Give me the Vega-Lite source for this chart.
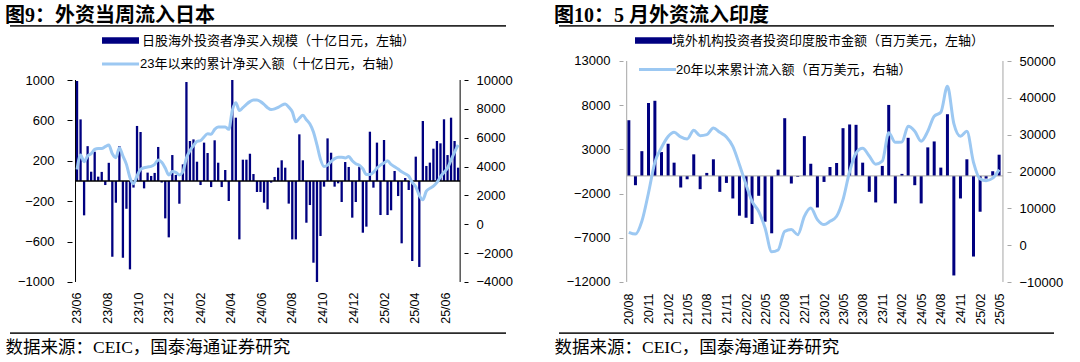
{
  "$schema": "https://vega.github.io/schema/vega-lite/v6.json",
  "background": "white",
  "padding": 5,
  "spacing": 37,
  "config": {
    "view": {"stroke": null},
    "axis": {"grid": false, "labelFont": "Liberation Sans", "labelFontSize": 13, "labelColor": "#000", "title": null},
    "legend": {"orient": "none", "title": null, "padding": 0, "labelFont": "Liberation Sans, Noto Sans CJK SC", "labelFontSize": 13, "labelColor": "#000", "labelLimit": 700}
  },
  "resolve": {"scale": {"fill": "independent", "stroke": "independent"}, "legend": {"fill": "independent", "stroke": "independent"}},
  "datasets": {
    "jp": [
      {"d":"2023-06-02","v":990,"c":3800},{"d":"2023-06-09","v":610,"c":4800},{"d":"2023-06-16","v":-340,"c":4340},{"d":"2023-06-23","v":345,"c":4730},{"d":"2023-06-30","v":92,"c":4890},
      {"d":"2023-07-07","v":290,"c":5190},{"d":"2023-07-14","v":43,"c":5260},{"d":"2023-07-21","v":90,"c":5260},{"d":"2023-07-28","v":-40,"c":5380},
      {"d":"2023-08-04","v":180,"c":5490},{"d":"2023-08-11","v":-750,"c":4890},{"d":"2023-08-18","v":-215,"c":4620},{"d":"2023-08-25","v":345,"c":5310},
      {"d":"2023-09-01","v":-760,"c":4730},{"d":"2023-09-08","v":-275,"c":4150},{"d":"2023-09-15","v":-875,"c":3230},{"d":"2023-09-22","v":-65,"c":2810},{"d":"2023-09-29","v":545,"c":3350},
      {"d":"2023-10-06","v":485,"c":3810},{"d":"2023-10-13","v":-73,"c":3920},{"d":"2023-10-20","v":83,"c":3970},{"d":"2023-10-27","v":50,"c":4010},
      {"d":"2023-11-03","v":80,"c":4150},{"d":"2023-11-10","v":337,"c":4460},{"d":"2023-11-17","v":-15,"c":4300},{"d":"2023-11-24","v":-370,"c":3900},
      {"d":"2023-12-01","v":-558,"c":3420},{"d":"2023-12-08","v":257,"c":3650},{"d":"2023-12-15","v":60,"c":3600},{"d":"2023-12-22","v":-225,"c":3420},{"d":"2023-12-29","v":165,"c":3650},
      {"d":"2024-01-05","v":980,"c":4600},{"d":"2024-01-12","v":396,"c":5100},{"d":"2024-01-19","v":412,"c":5450},{"d":"2024-01-26","v":191,"c":5750},
      {"d":"2024-02-02","v":-40,"c":5800},{"d":"2024-02-09","v":380,"c":6050},{"d":"2024-02-16","v":277,"c":6280},{"d":"2024-02-23","v":-60,"c":6240},
      {"d":"2024-03-01","v":403,"c":6580},{"d":"2024-03-08","v":181,"c":6740},{"d":"2024-03-15","v":-60,"c":6740},{"d":"2024-03-22","v":109,"c":6750},{"d":"2024-03-29","v":-198,"c":6580},
      {"d":"2024-04-05","v":1000,"c":7900},{"d":"2024-04-12","v":627,"c":8430},{"d":"2024-04-19","v":-578,"c":7890},{"d":"2024-04-26","v":211,"c":8080},
      {"d":"2024-05-03","v":211,"c":8310},{"d":"2024-05-10","v":270,"c":8500},{"d":"2024-05-17","v":69,"c":8610},{"d":"2024-05-24","v":-109,"c":8610},{"d":"2024-05-31","v":-109,"c":8500},
      {"d":"2024-06-07","v":-215,"c":8310},{"d":"2024-06-14","v":-280,"c":8080},{"d":"2024-06-21","v":-16,"c":7950},{"d":"2024-06-28","v":40,"c":8000},
      {"d":"2024-07-05","v":132,"c":8100},{"d":"2024-07-12","v":205,"c":8250},{"d":"2024-07-19","v":132,"c":8330},{"d":"2024-07-26","v":-224,"c":8120},
      {"d":"2024-08-02","v":-578,"c":7800},{"d":"2024-08-09","v":-578,"c":7100},{"d":"2024-08-16","v":462,"c":7350},{"d":"2024-08-23","v":205,"c":7550},{"d":"2024-08-30","v":-413,"c":7250},
      {"d":"2024-09-06","v":-238,"c":6950},{"d":"2024-09-13","v":-809,"c":6400},{"d":"2024-09-20","v":-1000,"c":5500},{"d":"2024-09-27","v":-545,"c":4500},
      {"d":"2024-10-04","v":-56,"c":4000},{"d":"2024-10-11","v":422,"c":4100},{"d":"2024-10-18","v":280,"c":4350},{"d":"2024-10-25","v":-56,"c":4550},
      {"d":"2024-11-01","v":-23,"c":4650},{"d":"2024-11-08","v":-208,"c":4650},{"d":"2024-11-15","v":188,"c":4600},{"d":"2024-11-22","v":139,"c":4700},{"d":"2024-11-29","v":-363,"c":4400},
      {"d":"2024-12-06","v":-208,"c":4200},{"d":"2024-12-13","v":142,"c":4100},{"d":"2024-12-20","v":-512,"c":3850},{"d":"2024-12-27","v":-452,"c":3450},
      {"d":"2025-01-03","v":488,"c":3450},{"d":"2025-01-10","v":-66,"c":3600},{"d":"2025-01-17","v":380,"c":3900},{"d":"2025-01-24","v":-337,"c":4100},{"d":"2025-01-31","v":406,"c":4250},
      {"d":"2025-02-07","v":-337,"c":4400},{"d":"2025-02-14","v":-290,"c":4150},{"d":"2025-02-21","v":99,"c":3990},{"d":"2025-02-28","v":-149,"c":3830},
      {"d":"2025-03-07","v":-617,"c":3640},{"d":"2025-03-14","v":30,"c":3500},{"d":"2025-03-21","v":-89,"c":3350},{"d":"2025-03-28","v":-792,"c":2900},
      {"d":"2025-04-04","v":241,"c":2600},{"d":"2025-04-11","v":-851,"c":2000},{"d":"2025-04-18","v":594,"c":1700},{"d":"2025-04-25","v":149,"c":2300},
      {"d":"2025-05-02","v":182,"c":2490},{"d":"2025-05-09","v":320,"c":2650},{"d":"2025-05-16","v":396,"c":2900},{"d":"2025-05-23","v":373,"c":3290},{"d":"2025-05-30","v":611,"c":3600},
      {"d":"2025-06-06","v":257,"c":3900},{"d":"2025-06-13","v":627,"c":4450},{"d":"2025-06-20","v":396,"c":5000},{"d":"2025-06-27","v":132,"c":5500}
    ],
    "jpaxes": [{"t0": "2023-05-30", "t1": "2025-07-01", "lo": -1000, "hi": 1000, "z": 0}],
    "jpframe": [{"f0": "2023-01-20", "f1": "2025-09-30", "top": 1536.7, "bot": -1507}],
    "ind": [
      {"d":"2020-08-01","v":6300,"c":3500},{"d":"2020-09-01","v":-1050,"c":3000},{"d":"2020-10-01","v":2800,"c":6480},{"d":"2020-11-01","v":8250,"c":14170},{"d":"2020-12-01","v":8500,"c":22500},
      {"d":"2021-01-01","v":2700,"c":26500},{"d":"2021-02-01","v":3640,"c":29500},{"d":"2021-03-01","v":1500,"c":30640},{"d":"2021-04-01","v":-1310,"c":29380},{"d":"2021-05-01","v":-380,"c":28830},{"d":"2021-06-01","v":2440,"c":31190},
      {"d":"2021-07-01","v":-1500,"c":29740},{"d":"2021-08-01","v":340,"c":30010},{"d":"2021-09-01","v":1880,"c":31820},{"d":"2021-10-01","v":-1800,"c":30640},{"d":"2021-11-01","v":-790,"c":29380},{"d":"2021-12-01","v":-2550,"c":26840},
      {"d":"2022-01-01","v":-4500,"c":21860},{"d":"2022-02-01","v":-4730,"c":16430},{"d":"2022-03-01","v":-5440,"c":11910},{"d":"2022-04-01","v":-2250,"c":9200},{"d":"2022-05-01","v":-5180,"c":4670},{"d":"2022-06-01","v":-6490,"c":-1800},
      {"d":"2022-07-01","v":710,"c":-1300},{"d":"2022-08-01","v":6530,"c":3760},{"d":"2022-09-01","v":-860,"c":4220},{"d":"2022-10-01","v":-100,"c":2860},{"d":"2022-11-01","v":4500,"c":7840},{"d":"2022-12-01","v":1390,"c":10100},
      {"d":"2023-01-01","v":-3570,"c":6930},{"d":"2023-02-01","v":-680,"c":5580},{"d":"2023-03-01","v":1010,"c":6480},{"d":"2023-04-01","v":1460,"c":7840},{"d":"2023-05-01","v":5400,"c":12360},{"d":"2023-06-01","v":5820,"c":20000},
      {"d":"2023-07-01","v":5780,"c":25000},{"d":"2023-08-01","v":1500,"c":26300},{"d":"2023-09-01","v":-1800,"c":24200},{"d":"2023-10-01","v":-3000,"c":22000},{"d":"2023-11-01","v":1130,"c":22800},{"d":"2023-12-01","v":8030,"c":30500},
      {"d":"2024-01-01","v":-3110,"c":27930},{"d":"2024-02-01","v":230,"c":28000},{"d":"2024-03-01","v":4310,"c":32270},{"d":"2024-04-01","v":-1050,"c":30920},{"d":"2024-05-01","v":-3110,"c":28200},{"d":"2024-06-01","v":3230,"c":30920},
      {"d":"2024-07-01","v":3900,"c":34990},{"d":"2024-08-01","v":940,"c":36070},{"d":"2024-09-01","v":6980,"c":43130},{"d":"2024-10-01","v":-11260,"c":33000},{"d":"2024-11-01","v":-2550,"c":29560},{"d":"2024-12-01","v":1880,"c":30920},
      {"d":"2025-01-01","v":-9120,"c":22500},{"d":"2025-02-01","v":-4050,"c":17970},{"d":"2025-03-01","v":-300,"c":17520},{"d":"2025-04-01","v":530,"c":18200},{"d":"2025-05-01","v":2400,"c":20510}
    ],
    "inaxes": [{"t0": "2020-07-22", "t1": "2025-05-19", "lo": -12000, "hi": 13000, "z": 0}],
    "inframe": [{"f0": "2019-09-09", "f1": "2026-01-13", "top": 16982, "bot": -17792}]
  },
  "hconcat": [
    {
      "width": 506, "height": 309,
      "title": {"text": "图9：外资当周流入日本", "anchor": "start", "frame": "group", "offset": -1, "fontSize": 20, "fontWeight": "bold", "font": "Liberation Serif, Noto Sans CJK SC", "color": "#000"},
      "resolve": {"scale": {"y": "independent"}, "axis": {"x": "independent"}},
      "layer": [
        {
          "resolve": {"axis": {"x": "independent"}},
          "layer": [
            {
              "data": {"name": "jp"},
              "mark": {"type": "bar", "size": 2.3},
              "encoding": {
                "x": {"field": "d", "type": "temporal",
                  "scale": {"type": "utc", "domain": [{"year": 2023, "month": 1, "date": 20, "utc": true}, {"year": 2025, "month": 9, "date": 30, "utc": true}]},
                  "axis": {"orient": "bottom", "offset": -52, "domain": false, "ticks": false, "labelAngle": 270, "labelPadding": 10, "labelFontSize": 12.5, "labelFlush": false, "labelOverlap": false,
                    "tickCount": {"interval": "month", "step": 1},
                    "labelExpr": "datum.value >= utc(2023,5,1) && datum.value <= utc(2025,5,2) && utcmonth(datum.value) % 2 == 1 ? utcFormat(datum.value, '%y/%m') : ''"}},
                "y": {"field": "v", "type": "quantitative", "scale": {"domain": [-1514.9, 1544.6], "nice": false, "zero": false},
                  "axis": {"orient": "left", "offset": -67, "values": [-1000,-800,-600,-400,-200,0,200,400,600,800,1000], "format": "d", "domain": false, "tickColor": "#000", "tickSize": 5, "labelPadding": 13}},
                "fill": {"datum": "日股海外投资者净买入规模（十亿日元，左轴）", "scale": {"range": ["#000080"]},
                  "legend": {"legendX": 109, "legendY": 9, "symbolType": "M-5.69,-1H5.69V1H-5.69Z", "symbolSize": 42.25, "symbolStrokeWidth": 0, "labelOffset": 15}}
              }
            },
            {
              "data": {"name": "jpaxes"},
              "mark": {"type": "rule", "color": "#000", "strokeWidth": 1.3},
              "encoding": {
                "x": {"field": "t0", "type": "temporal", "axis": null},
                "x2": {"field": "t1"},
                "y": {"field": "z", "type": "quantitative"}
              }
            },
            {
              "data": {"name": "jpaxes"},
              "mark": {"type": "rule", "color": "#000", "strokeWidth": 1},
              "encoding": {
                "x": {"field": "t0", "type": "temporal", "axis": null},
                "y": {"field": "lo", "type": "quantitative"},
                "y2": {"field": "hi"}
              }
            },
            {
              "data": {"name": "jpaxes"},
              "mark": {"type": "rule", "color": "#000", "strokeWidth": 1},
              "encoding": {
                "x": {"field": "t1", "type": "temporal",
                  "axis": {"orient": "bottom", "offset": 0, "labels": false, "ticks": false, "domain": false,
                    "title": "数据来源：CEIC，国泰海通证券研究", "titleAnchor": "start", "titlePadding": 4, "titleFont": "Liberation Serif, Noto Sans CJK SC", "titleFontSize": 17.5, "titleFontWeight": "normal", "titleColor": "#000"}},
                "y": {"field": "lo", "type": "quantitative"},
                "y2": {"field": "hi"}
              }
            },
            {
              "data": {"name": "jpframe"},
              "mark": {"type": "rule", "color": "#2b2b2b", "strokeWidth": 1.7, "clip": false},
              "encoding": {
                "x": {"field": "f0", "type": "temporal", "axis": null},
                "x2": {"field": "f1"},
                "y": {"field": "top", "type": "quantitative"}
              }
            },
            {
              "data": {"name": "jpframe"},
              "mark": {"type": "rule", "color": "#2b2b2b", "strokeWidth": 1.7, "clip": false},
              "encoding": {
                "x": {"field": "f0", "type": "temporal", "axis": null},
                "x2": {"field": "f1"},
                "y": {"field": "bot", "type": "quantitative"}
              }
            }
          ]
        },
        {
          "data": {"name": "jp"},
          "mark": {"type": "line", "strokeWidth": 3, "interpolate": "monotone"},
          "encoding": {
            "x": {"field": "d", "type": "temporal", "axis": null},
            "y": {"field": "c", "type": "quantitative", "scale": {"domain": [-7604, 13811.9], "nice": false, "zero": false},
              "axis": {"orient": "right", "offset": -47, "values": [-4000,-2000,0,2000,4000,6000,8000,10000], "format": "d", "domain": false, "tickColor": "#000", "tickSize": 4, "labelPadding": 8}},
            "stroke": {"datum": "23年以来的累计净买入额（十亿日元，右轴）", "scale": {"range": ["#9cc8f2"]},
              "legend": {"legendX": 109, "legendY": 32.5, "symbolType": "M-5.69,0H5.69", "symbolSize": 42.25, "symbolStrokeWidth": 3, "labelOffset": 13}}
          }
        }
      ]
    },
    {
      "width": 505, "height": 309,
      "title": {"text": "图10：5 月外资流入印度", "anchor": "start", "frame": "group", "offset": -1, "fontSize": 20, "fontWeight": "bold", "font": "Liberation Serif, Noto Sans CJK SC", "color": "#000"},
      "resolve": {"scale": {"y": "independent"}, "axis": {"x": "independent"}},
      "layer": [
        {
          "resolve": {"axis": {"x": "independent"}},
          "layer": [
            {
              "data": {"name": "ind"},
              "mark": {"type": "bar", "size": 3},
              "encoding": {
                "x": {"field": "d", "type": "temporal",
                  "scale": {"type": "utc", "domain": [{"year": 2019, "month": 9, "date": 9, "utc": true}, {"year": 2026, "month": 1, "date": 13, "utc": true}]},
                  "axis": {"orient": "bottom", "offset": -52, "domain": false, "ticks": false, "labelAngle": 270, "labelPadding": 11, "labelFontSize": 12.5, "labelFlush": false, "labelOverlap": false,
                    "tickCount": {"interval": "month", "step": 1},
                    "labelExpr": "datum.value >= utc(2020,6,25) && datum.value <= utc(2025,4,5) && utcmonth(datum.value) % 3 == 1 ? utcFormat(datum.value, '%y/%m') : ''"}},
                "y": {"field": "v", "type": "quantitative", "scale": {"domain": [-17882.4, 17072.4], "nice": false, "zero": false},
                  "axis": {"orient": "left", "offset": -69, "values": [-12000,-7000,-2000,3000,8000,13000], "format": "d", "domain": false, "tickColor": "#a6a6a6", "tickSize": 4, "labelPadding": 9}},
                "fill": {"datum": "境外机构投资者投资印度股市金额（百万美元，左轴）", "scale": {"range": ["#000080"]},
                  "legend": {"legendX": 93, "legendY": 9, "symbolType": "M-5.69,-1H5.69V1H-5.69Z", "symbolSize": 42.25, "symbolStrokeWidth": 0, "labelOffset": 12}}
              }
            },
            {
              "data": {"name": "inaxes"},
              "mark": {"type": "rule", "color": "#a6a6a6", "strokeWidth": 1},
              "encoding": {
                "x": {"field": "t0", "type": "temporal", "axis": null},
                "x2": {"field": "t1"},
                "y": {"field": "z", "type": "quantitative"}
              }
            },
            {
              "data": {"name": "inaxes"},
              "mark": {"type": "rule", "color": "#a6a6a6", "strokeWidth": 1},
              "encoding": {
                "x": {"field": "t0", "type": "temporal", "axis": null},
                "y": {"field": "lo", "type": "quantitative"},
                "y2": {"field": "hi"}
              }
            },
            {
              "data": {"name": "inaxes"},
              "mark": {"type": "rule", "color": "#a6a6a6", "strokeWidth": 1},
              "encoding": {
                "x": {"field": "t1", "type": "temporal",
                  "axis": {"orient": "bottom", "offset": 0, "labels": false, "ticks": false, "domain": false,
                    "title": "数据来源：CEIC，国泰海通证券研究", "titleAnchor": "start", "titlePadding": 4, "titleFont": "Liberation Serif, Noto Sans CJK SC", "titleFontSize": 17.5, "titleFontWeight": "normal", "titleColor": "#000"}},
                "y": {"field": "lo", "type": "quantitative"},
                "y2": {"field": "hi"}
              }
            },
            {
              "data": {"name": "inframe"},
              "mark": {"type": "rule", "color": "#2b2b2b", "strokeWidth": 1.7, "clip": false},
              "encoding": {
                "x": {"field": "f0", "type": "temporal", "axis": null},
                "x2": {"field": "f1"},
                "y": {"field": "top", "type": "quantitative"}
              }
            },
            {
              "data": {"name": "inframe"},
              "mark": {"type": "rule", "color": "#2b2b2b", "strokeWidth": 1.7, "clip": false},
              "encoding": {
                "x": {"field": "f0", "type": "temporal", "axis": null},
                "x2": {"field": "f1"},
                "y": {"field": "bot", "type": "quantitative"}
              }
            }
          ]
        },
        {
          "data": {"name": "ind"},
          "mark": {"type": "line", "strokeWidth": 3, "interpolate": "monotone"},
          "encoding": {
            "x": {"field": "d", "type": "temporal", "axis": null},
            "y": {"field": "c", "type": "quantitative", "scale": {"domain": [-24117.6, 59773.8], "nice": false, "zero": false},
              "axis": {"orient": "right", "offset": -52, "values": [-10000,0,10000,20000,30000,40000,50000], "format": "d", "domain": false, "tickColor": "#a6a6a6", "tickSize": 4, "labelPadding": 8}},
            "stroke": {"datum": "20年以来累计流入额（百万美元，右轴）", "scale": {"range": ["#9cc8f2"]},
              "legend": {"legendX": 97, "legendY": 38, "symbolType": "M-5.69,0H5.69", "symbolSize": 42.25, "symbolStrokeWidth": 3, "labelOffset": 12}}
          }
        }
      ]
    }
  ]
}
